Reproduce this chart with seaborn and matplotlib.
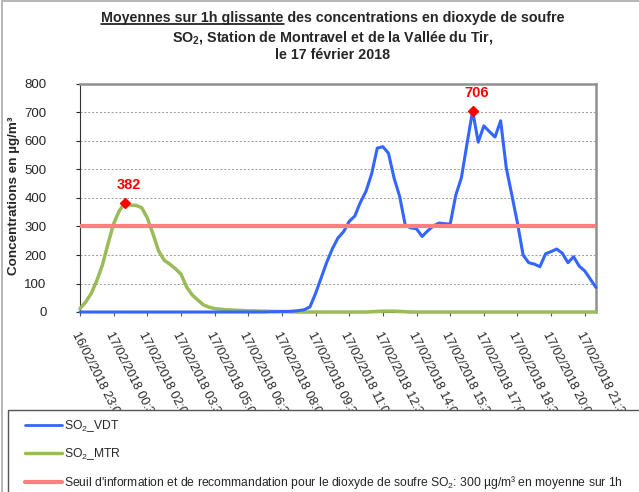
import numpy as np
import pandas as pd
import seaborn as sns
import matplotlib.pyplot as plt
from matplotlib.lines import Line2D
from matplotlib.patches import Rectangle

# 15 min steps from 16/02 23:00 to 17/02 22:00
times = pd.date_range("2018-02-16 23:00", "2018-02-17 22:00", freq="15min")

# SO2 Vallee du Tir (blue)
vdt = [0, 0, 0, 0, 0, 0, 0, 0, 0, 0,
       0, 0, 0, 0, 0, 0, 0, 0, 0, 0,
       0, 0, 0, 0, 0, 0, 0, 0, 0, 0,
       0, 0, 0, 0, 1, 1, 2, 2, 3, 5,
       8, 18, 65, 120, 175, 222, 260, 282, 318, 337,
       385, 424, 485, 575, 580, 557, 470, 405, 304, 295,
       292, 265, 285, 302, 312, 310, 308, 410, 471, 590,
       706, 596, 653, 633, 614, 671, 506, 410, 312, 200,
       173, 168, 159, 204, 212, 221, 206, 173, 194, 161,
       144, 115, 86]

# SO2 Montravel (green)
mtr = [12, 35, 65, 110, 165, 240, 310, 355, 382, 375,
       374, 366, 330, 275, 215, 182, 168, 152, 133, 88,
       60, 42, 25, 17, 12, 10, 8, 7, 6, 5,
       4, 4, 3, 3, 2, 2, 1, 1, 0, 0,
       0, 0, 0, 0, 0, 0, 0, 0, 0, 0,
       0, 0, 1, 2, 3, 3, 3, 2, 1, 0,
       0, 0, 0, 0, 0, 0, 0, 0, 0, 0,
       0, 0, 0, 0, 0, 0, 0, 0, 0, 0,
       0, 0, 0, 0, 0, 0, 0, 0, 0, 0,
       0, 0, 0]

seuil = 300

blue = "#3366FF"
green = "#9BBB59"
salmon = "#FF7F7F"

sns.set_style("white")
plt.rcParams['font.family'] = ['Liberation Sans', 'DejaVu Sans']
plt.rcParams['mathtext.fontset'] = 'custom'
plt.rcParams['mathtext.rm'] = 'Liberation Sans'
plt.rcParams['mathtext.bf'] = 'Liberation Sans:bold'

fig = plt.figure(figsize=(6.39, 4.92), dpi=100)
ax = fig.add_axes([80/639, 1-312/492, 516/639, 228/492])

sns.lineplot(x=times, y=mtr, ax=ax, color=green, lw=2.5, clip_on=False, zorder=3)
sns.lineplot(x=times, y=vdt, ax=ax, color=blue, lw=2.2, clip_on=False, zorder=4)
ax.axhline(seuil, color=salmon, lw=3, zorder=5)

# maxima
for serie in (mtr, vdt):
    i = int(np.argmax(serie))
    ax.plot(times[i], serie[i], marker="D", color="red", ms=5, zorder=6)
    ax.annotate(str(serie[i]), (times[i], serie[i]), xytext=(3, 8), textcoords="offset points",
                ha="center", va="bottom", color="red", fontsize=10.5, fontweight="bold")

ax.set_xlim(times[0], times[-1])
ax.set_ylim(0, 800)
ax.set_yticks(range(0, 801, 100))
ax.tick_params(axis="y", labelsize=9.5, length=3, pad=21, left=True)
ax.yaxis.grid(True, ls=(0, (2, 2)), color="#999999", lw=0.7)

ticks = times[::6]
ax.set_xticks(ticks)
ax.set_xticklabels([t.strftime("%d/%m/%Y %H:%M") for t in ticks], rotation=-63,
                   ha="left", va="top", rotation_mode="anchor", fontsize=9)
ax.tick_params(axis="x", length=3, pad=10, bottom=True, color="#555555")
ax.set_xlabel("")
ax.set_ylabel("")

for s in ("top", "right"):
    ax.spines[s].set_color("#909090")
    ax.spines[s].set_linewidth(1.8)
ax.spines["left"].set_color("#333333")
ax.spines["bottom"].set_color("#333333")

fig.text(14/639, 1-196/492, "Concentrations en µg/m³", rotation=90, ha="center", va="center",
         fontsize=9.7, fontweight="bold")

# title
tx = 333/639
t1 = fig.text(tx, 1-18/492, "Moyennes sur 1h glissante des concentrations en dioxyde de soufre",
              ha="center", va="center", fontsize=10.3, fontweight="bold")
fig.text(tx, 1-37/492, r"SO$_\mathbf{2}$, Station de Montravel et de la Vallée du Tir,",
         ha="center", va="center", fontsize=10.3, fontweight="bold")
fig.text(tx, 1-55/492, "le 17 février 2018", ha="center", va="center", fontsize=10.3, fontweight="bold")

# underline of the first part of the title
fig.canvas.draw()
r = fig.canvas.get_renderer()
bb = t1.get_window_extent(r)
tmp = fig.text(0, 0, "Moyennes sur 1h glissante", fontsize=10.3, fontweight="bold")
w = tmp.get_window_extent(r).width
tmp.remove()
fig.add_artist(Line2D([bb.x0 / 639, (bb.x0 + w) / 639], [bb.y0 / 492 + 0.002] * 2,
                      color="black", lw=1.1))

# outer frame and legend box
fig.add_artist(Rectangle((2/639, -0.1), 1.2, 1.1 - 1/492, fill=False, ec="#aaaaaa", lw=1.2, zorder=1))
fig.add_artist(Rectangle((8/639, -0.1), 1.2, 0.1 + 1-410/492, fc="white", ec="#555555", lw=1, zorder=10))

handles = [Line2D([], [], color=blue, lw=2),
           Line2D([], [], color=green, lw=2.5),
           Line2D([], [], color=salmon, lw=3)]
labels = ["SO$_2$_VDT", "SO$_2$_MTR",
          "Seuil d'information et de recommandation pour le dioxyde de soufre SO$_2$: 300 µg/m³ en moyenne sur 1h"]
leg = fig.legend(handles, labels, loc="upper left", bbox_to_anchor=(25/639, 1-418/492),
                 frameon=False, fontsize=8.7, handlelength=3.1, handletextpad=0.15,
                 labelspacing=1.0, borderaxespad=0, borderpad=0)
leg.set_zorder(11)

fig.savefig("out.png", dpi=100)
